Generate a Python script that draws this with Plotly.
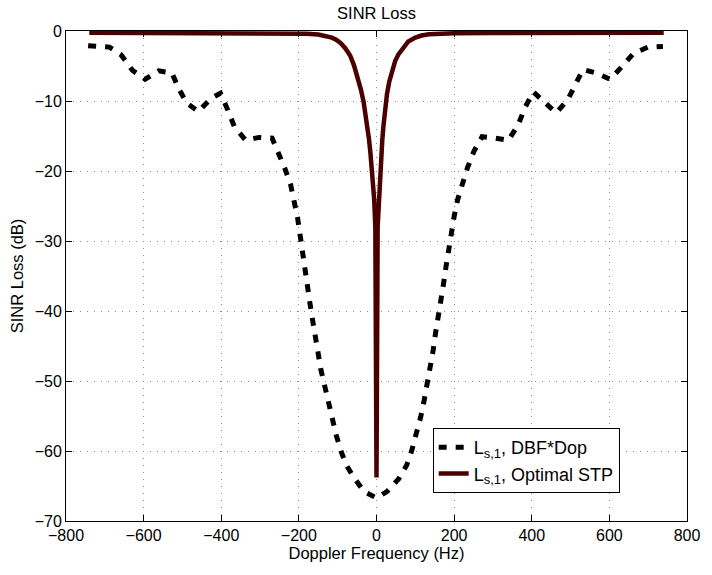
import plotly.graph_objects as go

# Doppler frequency samples (Hz) and SINR loss (dB) for the DBF*Dop processor
DBF_FREQ = [-743, -688, -658, -629, -596, -561, -527, -510, -489, -459, -426, -402,
            -383, -366, -337, -303, -269, -252, -235, -221, -211, -203, -197, -190,
            -184, -178, -172, -165, -157, -151, -144, -134, -125, -115, -104, -91,
            -78, -58, -32, 0, 27, 57, 78, 91, 103, 114, 123, 131, 140, 146, 152,
            158, 167, 173, 179, 185, 192, 200, 209, 222, 234, 251, 272, 306, 340,
            365, 382, 404, 433, 463, 492, 513, 532, 566, 602, 632, 662, 700, 738]
DBF_LOSS = [-2.1, -2.3, -3.4, -5.6, -6.9, -5.7, -6.0, -8.2, -10.3, -11.5, -9.6, -8.9,
            -11.3, -13.7, -15.6, -15.2, -15.3, -17.5, -19.8, -22.0, -24.4, -26.8, -29.1, -31.5,
            -33.9, -36.3, -38.7, -41.2, -43.4, -45.8, -48.2, -50.6, -53.0, -55.3, -57.7, -60.1,
            -62.0, -63.8, -65.8, -66.7, -65.8, -64.0, -62.0, -59.9, -57.5, -55.1, -52.7, -50.3,
            -48.0, -45.6, -43.2, -40.8, -38.4, -36.0, -33.7, -31.3, -28.9, -26.5, -24.1, -21.8,
            -19.6, -17.2, -15.1, -15.3, -15.6, -13.4, -11.0, -8.7, -10.1, -11.7, -9.9, -7.7,
            -5.5, -6.0, -6.9, -5.1, -3.2, -2.3, -2.2]

# Doppler frequency samples (Hz) and SINR loss (dB) for the optimal space-time processor
STP_FREQ = [-740, -600, -400, -300, -220, -180, -150, -130, -115, -104, -92, -80, -68,
            -58, -48, -40, -33, -28, -23, -19.5, -16, -12.7, -9.3, -6, -3, 0, 3, 6,
            9.3, 12.5, 15, 18, 22, 27, 33, 40, 48, 57, 68, 82, 100, 116, 135, 160,
            200, 300, 400, 600, 740]
STP_LOSS = [-0.25, -0.25, -0.27, -0.3, -0.33, -0.4, -0.5, -0.7, -0.95, -1.25, -1.75, -2.5, -3.5,
            -4.9, -6.6, -8.4, -10.2, -11.8, -13.6, -15.4, -17.2, -19.2, -21.5, -24.0, -28.0, -63.8, -28.0, -24.0,
            -21.0, -18.0, -15.5, -13.5, -11.0, -9.0, -7.2, -5.6, -4.3, -3.3, -2.4, -1.5, -0.95, -0.65, -0.48, -0.4,
            -0.33, -0.3, -0.27, -0.25, -0.25]

X_TICKS = [-800, -600, -400, -200, 0, 200, 400, 600, 800]
Y_TICKS = [0, -10, -20, -30, -40, -50, -60, -70]

FONT = "Liberation Sans, Arial, Helvetica, sans-serif"
SUB = "<sub><span style='font-size:13px'>s,1</span></sub>"

fig = go.Figure()
fig.add_trace(go.Scatter(
    x=DBF_FREQ, y=DBF_LOSS, mode="lines",
    name="L" + SUB + ", DBF*Dop",
    line=dict(color="black", width=5, dash="8px,9px"),
))
fig.add_trace(go.Scatter(
    x=STP_FREQ, y=STP_LOSS, mode="lines",
    name="L" + SUB + ", Optimal STP",
    line=dict(color="#4a0000", width=4.5),
))

axis_common = dict(
    showline=True, linecolor="black", linewidth=1, mirror="ticks",
    ticks="inside", ticklen=6, tickcolor="black",
    showgrid=True, gridcolor="#8a8a8a", gridwidth=1, griddash="1px,6px",
    zeroline=False, tickfont=dict(family=FONT, size=16, color="black"),
)

fig.update_xaxes(
    range=[-800, 800], tickvals=X_TICKS,
    title=dict(text="Doppler Frequency (Hz)", font=dict(family=FONT, size=16.5, color="black"), standoff=4),
    **axis_common,
)
fig.update_yaxes(
    range=[-70, 0], tickvals=Y_TICKS,
    title=dict(text="SINR Loss (dB)", font=dict(family=FONT, size=16.5, color="black"), standoff=6),
    **axis_common,
)

fig.update_layout(
    width=712, height=575,
    margin=dict(l=66, r=16, t=31, b=54),
    paper_bgcolor="white", plot_bgcolor="white",
    font=dict(family=FONT, size=16, color="black"),
    title=dict(text="SINR Loss", x=0.5, xref="paper", xanchor="center",
               y=1 - 13 / 575, yref="container", yanchor="middle",
               font=dict(family=FONT, size=16.5, color="black")),
    legend=dict(
        x=(438 - 66) / 630, y=(521 - 428) / 490, xanchor="left", yanchor="top",
        bgcolor="white", bordercolor="black", borderwidth=1,
        font=dict(family=FONT, size=18, color="black"),
        tracegroupgap=0,
    ),
    showlegend=True,
)

fig.write_html("out.html")
